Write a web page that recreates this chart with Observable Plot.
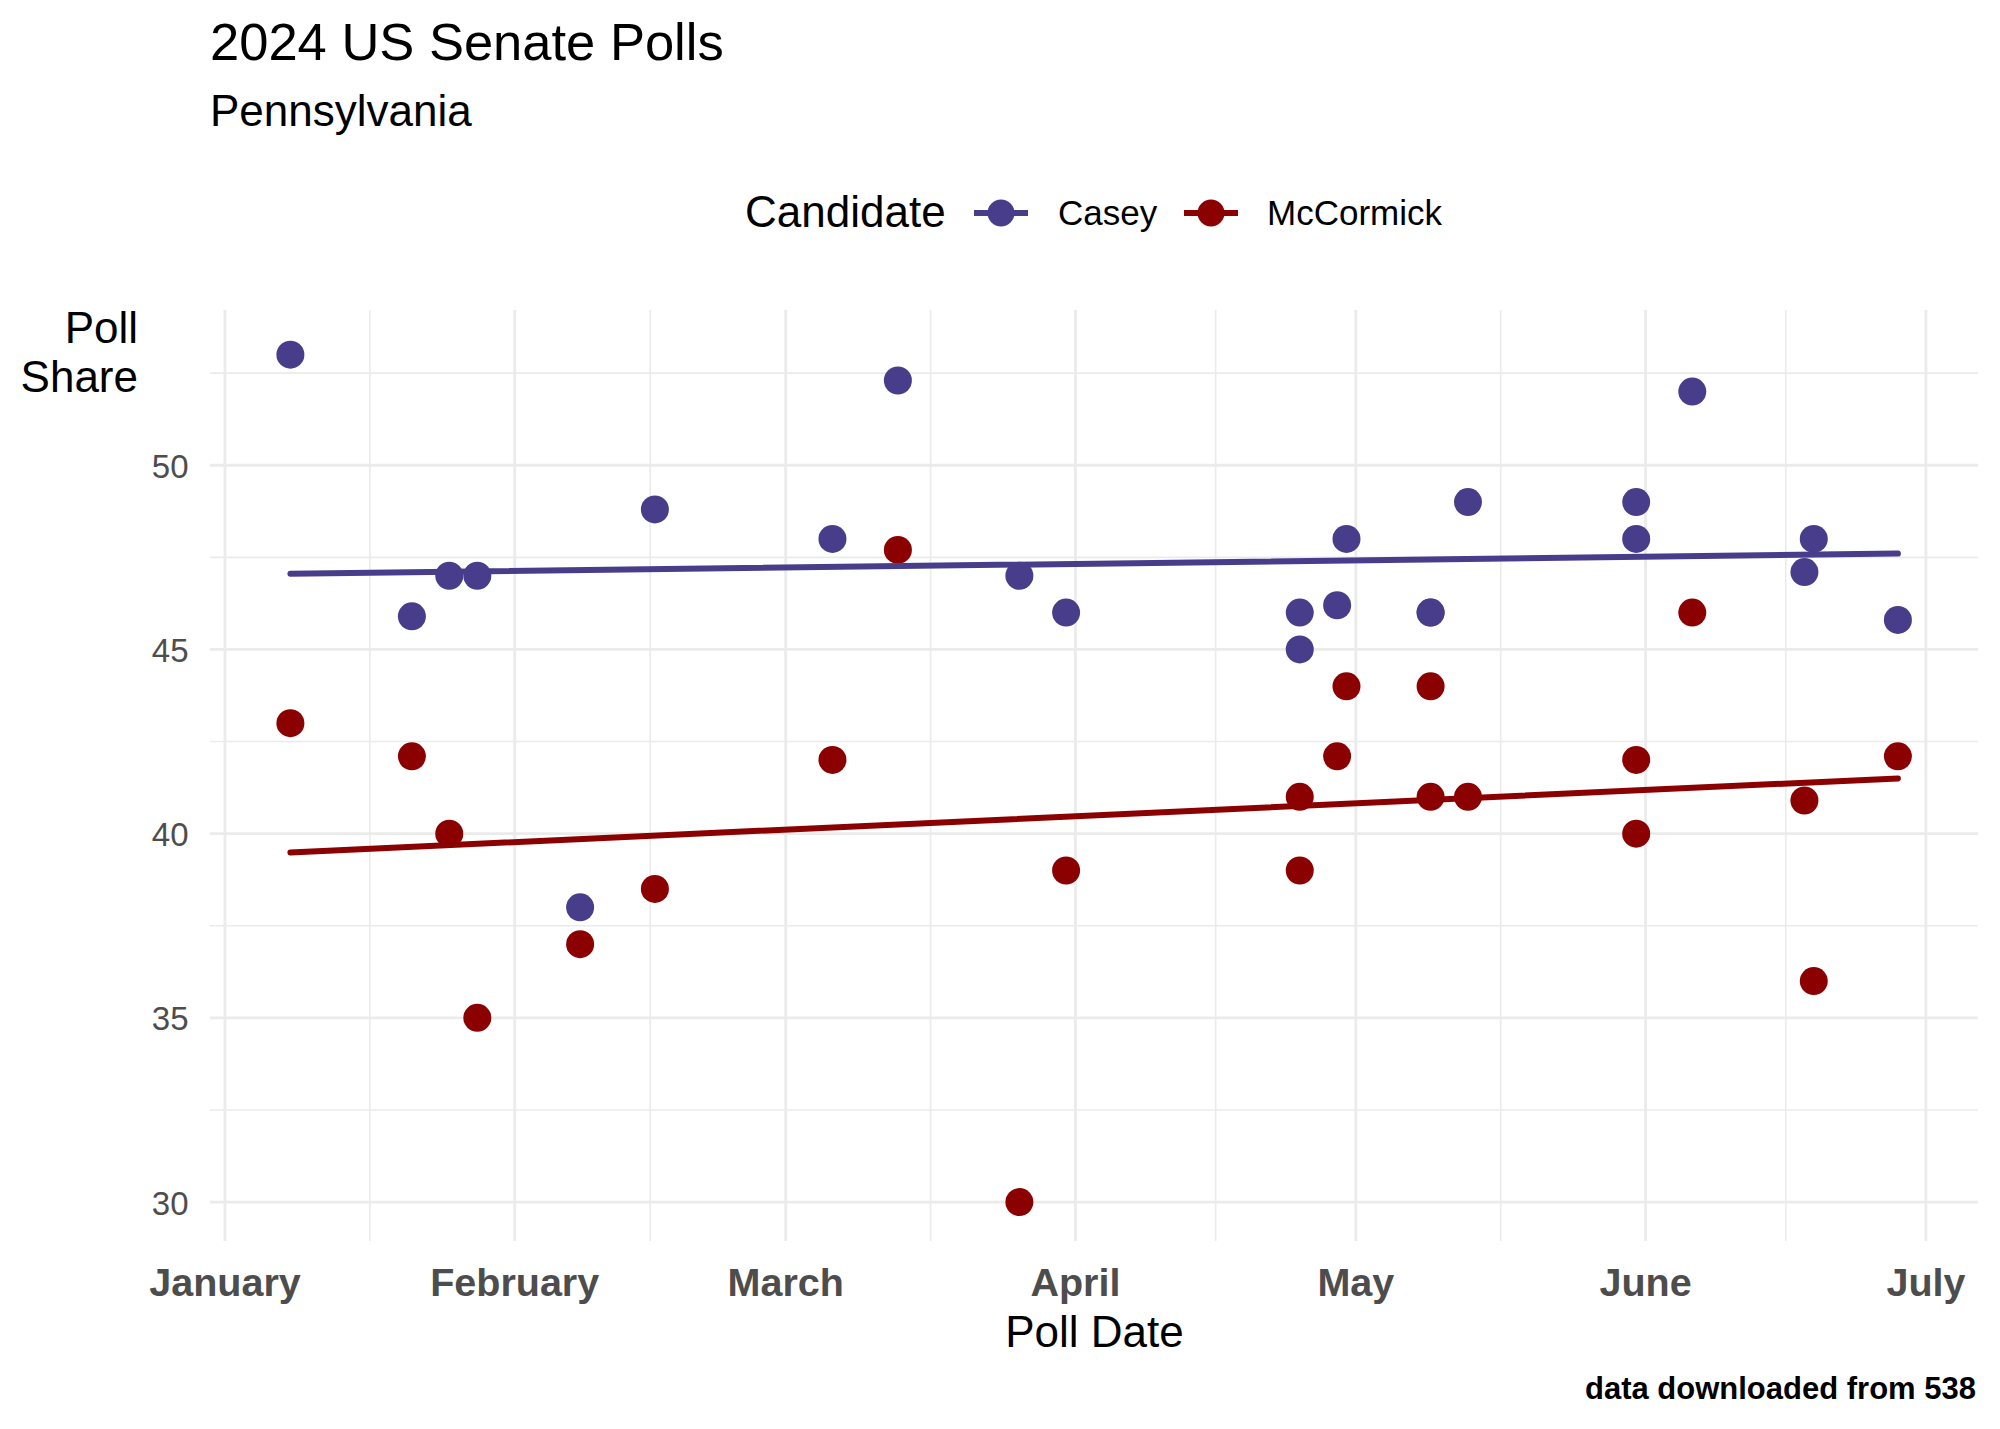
<!DOCTYPE html>
<html>
<head>
<meta charset="utf-8">
<script src="https://cdn.jsdelivr.net/npm/d3@7"></script>
<script src="https://cdn.jsdelivr.net/npm/@observablehq/plot@0.6"></script>
<style>
  html, body { margin: 0; padding: 0; background: #fff; }
  #page { position: relative; width: 2000px; height: 1429px; overflow: hidden;
          font-family: "Liberation Sans", Arial, Helvetica, sans-serif; color: #000; }
  .t { position: absolute; white-space: nowrap; line-height: 1; }
  #chart { position: absolute; left: 0; top: 240px; }
  .swatch { position: absolute; }
</style>
</head>
<body>
<div id="page">
  <div class="t" id="title" style="left:210px;top:16.4px;font-size:52.5px;">2024 US Senate Polls</div>
  <div class="t" id="subtitle" style="left:210px;top:88.7px;font-size:44px;">Pennsylvania</div>
  <div id="legend"></div>
  <div id="chart"></div>
  <div class="t" id="caption" style="right:24px;top:1373px;font-size:31px;font-weight:bold;">data downloaded from 538</div>
</div>
<script>
// ---- data ----
const candidates = ["Casey", "McCormick"];
const candidateColors = ["#483D8B", "#8B0000"];

const caseyDates = ["2024-01-08","2024-01-21","2024-01-25","2024-01-28","2024-02-08","2024-02-16",
  "2024-03-06","2024-03-13","2024-03-26","2024-03-31","2024-04-25","2024-04-25","2024-04-29",
  "2024-04-30","2024-05-09","2024-05-09","2024-05-13","2024-05-31","2024-05-31","2024-06-06",
  "2024-06-18","2024-06-19","2024-06-28"];
const caseyShares = [53, 45.9, 47, 47, 38, 48.8,
  48, 52.3, 47, 46, 45, 46, 46.2,
  48, 46, 46, 49, 48, 49, 52,
  47.1, 48, 45.8];

const mccormickDates = ["2024-01-08","2024-01-21","2024-01-25","2024-01-28","2024-02-08","2024-02-16",
  "2024-03-06","2024-03-13","2024-03-26","2024-03-31","2024-04-25","2024-04-25","2024-04-29",
  "2024-04-30","2024-05-09","2024-05-09","2024-05-13","2024-05-31","2024-05-31","2024-06-06",
  "2024-06-18","2024-06-19","2024-06-28"];
const mccormickShares = [43, 42.1, 40, 35, 37, 38.5,
  42, 47.7, 30, 39, 41, 39, 42.1,
  44, 44, 41, 41, 42, 40, 46,
  40.9, 36, 42.1];

const monthTickDates = ["2024-01-01","2024-02-01","2024-03-01","2024-04-01","2024-05-01","2024-06-01","2024-07-01"];
const monthLabels = ["January","February","March","April","May","June","July"];
const yTicks = [30, 35, 40, 45, 50];
const xDomain = ["2023-12-30T10:50:00Z", "2024-07-06T15:00:00Z"];
const yDomain = [28.93, 54.2];

// ---- build table ----
const polls = [
  ...caseyDates.map((d, i) => ({date: new Date(d), share: caseyShares[i], candidate: "Casey"})),
  ...mccormickDates.map((d, i) => ({date: new Date(d), share: mccormickShares[i], candidate: "McCormick"}))
];
const monthTicks = monthTickDates.map(d => new Date(d));
const xMinor = d3.pairs(monthTicks).map(([a, b]) => new Date((+a + +b) / 2));
const yMinor = yTicks.map(v => v + 2.5).filter(v => v < yDomain[1]);

const grid = "#ebebeb";
const plot = Plot.plot({
  width: 2000,
  height: 1120,
  marginTop: 70,
  marginBottom: 119,
  marginLeft: 210,
  marginRight: 22,
  style: {fontFamily: '"Liberation Sans", Arial, Helvetica, sans-serif', fontSize: "33px", background: "white", overflow: "visible"},
  x: {type: "utc", domain: xDomain.map(d => new Date(d))},
  y: {domain: yDomain},
  color: {domain: candidates, range: candidateColors},
  marks: [
    Plot.gridY(yMinor, {stroke: grid, strokeOpacity: 1, strokeWidth: 1.6}),
    Plot.gridX(xMinor, {stroke: grid, strokeOpacity: 1, strokeWidth: 1.6}),
    Plot.gridY(yTicks, {stroke: grid, strokeOpacity: 1, strokeWidth: 2.8}),
    Plot.gridX(monthTicks, {stroke: grid, strokeOpacity: 1, strokeWidth: 2.8}),
    Plot.axisY(yTicks, {tickSize: 0, tickPadding: 22, fontSize: 33, color: "#4d4d4d", label: null, dy: 2}),
    Plot.axisX(monthTicks, {tickSize: 0, tickPadding: 26, fontSize: 39.5, fontWeight: "bold", color: "#4d4d4d", label: null,
      tickFormat: d => monthLabels[monthTicks.findIndex(t => +t === +d)]}),
    Plot.dot(polls, {x: "date", y: "share", fill: "candidate", r: 14}),
    Plot.linearRegressionY(polls, {x: "date", y: "share", stroke: "candidate", ci: 0, strokeWidth: 6}),
    Plot.text(["Poll\nShare"], {text: d => d, frameAnchor: "top-left", textAnchor: "end", lineAnchor: "bottom",
      dx: -72.5, dy: 81, fontSize: 44, lineHeight: 1.1, fill: "black"}),
    Plot.text(["Poll Date"], {text: d => d, frameAnchor: "bottom", lineAnchor: "bottom", dy: 105, fontSize: 44, fill: "black"})
  ]
});
document.getElementById("chart").appendChild(plot);

// ---- legend (colors from the plot's color scale) ----
const color = plot.scale("color");
const legend = d3.select("#legend");
legend.append("div").attr("class", "t").style("left", "745px").style("top", "190.3px").style("font-size", "44px").text("Candidate");
const keyLefts = [974, 1184];
const labelLefts = [1058, 1267];
candidates.forEach((c, i) => {
  const col = color.range[color.domain.indexOf(c)];
  const sw = legend.append("svg").attr("class", "swatch")
    .attr("width", 56).attr("height", 40)
    .style("left", keyLefts[i] + "px").style("top", "193px");
  sw.append("line").attr("x1", 0).attr("x2", 54).attr("y1", 20).attr("y2", 20)
    .attr("stroke", col).attr("stroke-width", 6);
  sw.append("circle").attr("cx", 27).attr("cy", 20).attr("r", 13.5).attr("fill", col);
  legend.append("div").attr("class", "t").style("left", labelLefts[i] + "px").style("top", "195.2px")
    .style("font-size", "35px").text(c);
});
</script>
</body>
</html>
